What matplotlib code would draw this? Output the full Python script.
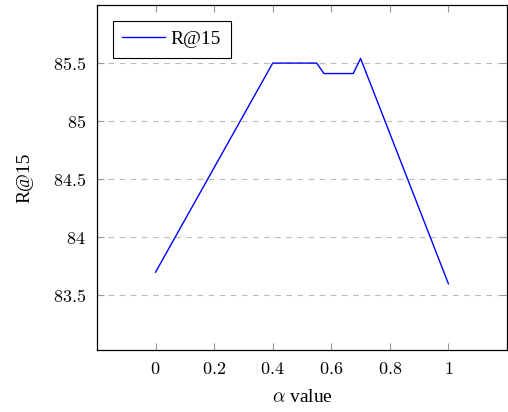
import matplotlib
matplotlib.use("Agg")
import matplotlib.pyplot as plt
from matplotlib.ticker import FuncFormatter

# données
alpha = [0, 0.4, 0.55, 0.575, 0.675, 0.7, 1]
recall = [83.7, 85.5, 85.5, 85.41, 85.41, 85.54, 83.6]
xticks = [0, 0.2, 0.4, 0.6, 0.8, 1]
yticks = [83.5, 84, 84.5, 85, 85.5]

plt.rcParams['font.family'] = ['Liberation Serif', 'DejaVu Serif']
plt.rcParams['mathtext.fontset'] = 'cm'

fig = plt.figure(figsize=(5.08, 4.12), dpi=100)
ax = fig.add_axes([97 / 508, 1 - 350 / 412, 410 / 508, 345 / 412])

ax.plot(alpha, recall, color='blue', linewidth=1.0, label='R@15')

ax.set_xlim(-0.2, 1.2)
ax.set_ylim(83.03, 86.0)
ax.set_xticks(xticks)
ax.set_yticks(yticks)
ax.xaxis.set_major_formatter(FuncFormatter(lambda v, p: '$%g$' % v))
ax.yaxis.set_major_formatter(FuncFormatter(lambda v, p: '$%g$' % v))
ax.tick_params(direction='in', length=5, color='#999999', labelsize=13,
               top=True, right=True, pad=8)
ax.grid(axis='y', linestyle=(0, (5, 5)), color='#bbbbbb', linewidth=0.8)

for s in ax.spines.values():
    s.set_linewidth(0.9)

ax.set_xlabel(r'$\alpha$ value', fontsize=14, labelpad=8)
ax.set_ylabel('R@15', fontsize=14, labelpad=14)

leg = ax.legend(loc='upper left', fontsize=14, fancybox=False, framealpha=1,
                edgecolor='black', handlelength=2.2, handletextpad=0.3,
                borderpad=0.5, borderaxespad=0.8)
leg.get_frame().set_linewidth(0.8)

fig.savefig('out.png', dpi=100)
